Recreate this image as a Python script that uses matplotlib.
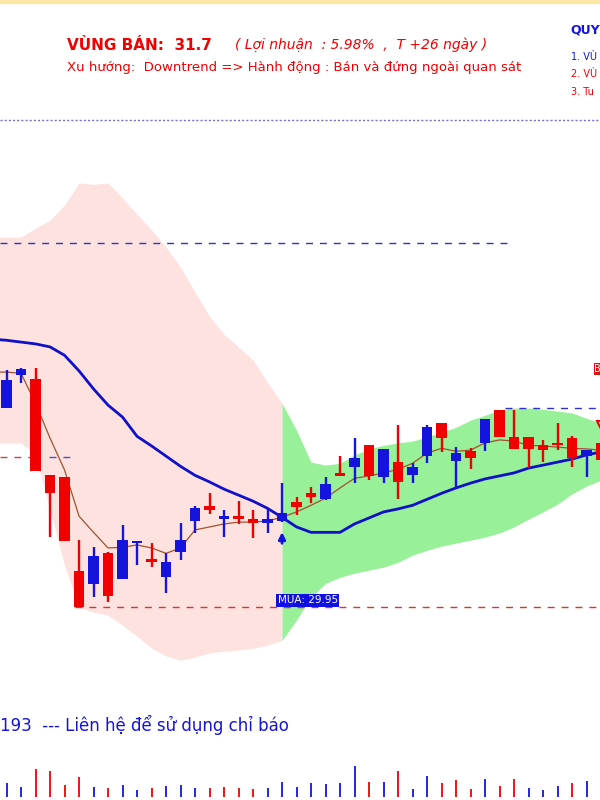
import matplotlib.pyplot as plt
import numpy as np

# ---- data (prices) ----
opens  = [31.70, 32.25, 32.18, 30.58, 30.55, 28.98, 28.77, 29.28, 28.85, 29.45,
          29.18, 28.88, 29.30, 29.82, 30.07, 29.85, 29.90, 29.85, 29.78, 29.82,
          30.13, 30.28, 30.18, 30.62, 30.72, 31.08, 30.55, 30.80, 30.58, 30.90,
          31.45, 30.82, 30.98, 31.12, 31.67, 31.22, 31.22, 31.08, 31.12, 31.20,
          30.90, 31.12]
highs  = [32.33, 32.37, 32.37, 30.58, 30.55, 29.50, 29.38, 29.30, 29.75, 29.48,
          29.45, 29.28, 29.78, 30.07, 30.28, 30.00, 30.15, 30.00, 30.03, 30.45,
          30.22, 30.38, 30.55, 30.90, 31.20, 31.08, 31.02, 31.42, 30.78, 31.42,
          31.45, 31.05, 31.03, 31.52, 31.67, 31.67, 31.22, 31.17, 31.45, 31.23,
          31.00, 31.12]
lows   = [31.70, 32.12, 30.65, 29.55, 29.48, 28.38, 28.55, 28.47, 28.85, 29.08,
          29.05, 28.62, 29.17, 29.62, 29.93, 29.55, 29.77, 29.53, 29.62, 29.80,
          29.92, 30.12, 30.17, 30.57, 30.45, 30.50, 30.45, 30.18, 30.45, 30.78,
          30.97, 30.37, 30.68, 30.98, 31.22, 31.02, 30.70, 30.80, 31.00, 30.72,
          30.55, 30.83]
closes = [32.17, 32.35, 30.65, 30.28, 29.48, 28.38, 29.23, 28.57, 29.50, 29.48,
          29.13, 29.13, 29.50, 30.03, 30.00, 29.90, 29.85, 29.78, 29.85, 29.95,
          30.05, 30.22, 30.43, 30.57, 30.87, 30.57, 31.02, 30.47, 30.72, 31.38,
          31.20, 30.95, 30.87, 31.52, 31.22, 31.02, 31.02, 31.00, 31.08, 30.87,
          31.00, 30.83]

# indicator series start one bar earlier (bar -1, just off the left edge)
ma_short = [32.30, 32.30, 32.28, 31.78, 31.20, 30.67, 29.90, 29.63, 29.37, 29.38,
            29.42, 29.37, 29.28, 29.37, 29.67, 29.72, 29.77, 29.80, 29.80, 29.82,
            29.88, 29.97, 30.08, 30.20, 30.37, 30.53, 30.57, 30.62, 30.68, 30.78,
            30.95, 31.03, 30.98, 31.00, 31.12, 31.17, 31.15, 31.08, 31.07, 31.05,
            31.03, 31.02, 31.00]
ma_long = [32.85, 32.83, 32.80, 32.77, 32.72, 32.58, 32.32, 32.02, 31.75, 31.55,
           31.23, 31.07, 30.90, 30.73, 30.58, 30.47, 30.35, 30.25, 30.15, 30.03,
           29.88, 29.72, 29.63, 29.63, 29.63, 29.77, 29.87, 29.97, 30.02, 30.08,
           30.18, 30.28, 30.37, 30.45, 30.52, 30.57, 30.62, 30.70, 30.75, 30.80,
           30.85, 30.92, 30.97]
band_up = [34.55, 34.55, 34.55, 34.70, 34.83, 35.08, 35.45, 35.43, 35.45, 35.20,
           34.93, 34.67, 34.38, 34.05, 33.63, 33.23, 32.93, 32.72, 32.50, 32.13,
           31.78, 31.33, 30.80, 30.75, 30.78, 30.92, 31.02, 31.08, 31.12, 31.15,
           31.22, 31.30, 31.38, 31.50, 31.58, 31.67, 31.70, 31.70, 31.68, 31.65,
           31.62, 31.53, 31.45]
band_low = [31.12, 31.12, 31.12, 30.92, 30.00, 29.08, 28.38, 28.30, 28.25, 28.08,
            27.90, 27.70, 27.57, 27.50, 27.55, 27.62, 27.65, 27.67, 27.70, 27.75,
            27.83, 28.17, 28.55, 28.78, 28.88, 28.95, 29.00, 29.05, 29.13, 29.25,
            29.33, 29.40, 29.45, 29.50, 29.55, 29.62, 29.72, 29.85, 29.97, 30.10,
            30.27, 30.40, 30.50]
signal_idx = 19   # bar where the band turns from sell (pink) to buy (green)

volume = [14, 10, 28, 26, 12, 20, 10, 9, 12, 7, 9, 11, 12, 9, 9, 10, 9, 8, 9, 15,
          10, 14, 13, 14, 31, 15, 15, 26, 8, 21, 14, 17, 8, 18, 11, 18, 9, 7, 11, 14, 16]
vol_up = [1, 1, 0, 0, 0, 0, 1, 0, 1, 1, 0, 1, 1, 1, 0, 0, 0, 0, 1, 1,
          1, 1, 1, 1, 1, 0, 1, 0, 1, 1, 0, 0, 0, 1, 0, 0, 1, 1, 1, 0, 1]

buy_price = 29.95
sell_price = 31.7
resist_level = 34.45
mid_level = 30.88
support_level = 28.38
header_level = 36.5

RED = '#f00000'
BLUE = '#1414dc'

fig = plt.figure(figsize=(6, 8), dpi=100)
ax = fig.add_axes([0, 0, 1, 1])
ax.set_xlim(-0.45, 40.93)
ax.set_ylim(25.17, 38.50)
ax.axis('off')

x = np.arange(len(opens))
xi = np.arange(-1, len(opens))   # x for indicator series

# bands
s = signal_idx + 1
ax.fill_between(xi[:s + 1], band_low[:s + 1], band_up[:s + 1], color='#fde2e0', lw=0, zorder=1)
ax.fill_between(xi[s:], band_low[s:], band_up[s:], color='#98f098', lw=0, zorder=1)

# level lines
ax.axhline(header_level, color='#7070d8', lw=1, ls=(0, (1.5, 1.5)), zorder=2)
ax.hlines(resist_level, -0.45, 34.6, color='#3030d0', lw=1, ls=(0, (5, 5)), zorder=2)
ax.hlines(mid_level, -0.45, 1.6, color='#d04050', lw=1, ls=(0, (5, 5)), zorder=2)
ax.hlines(mid_level, 2.9, 4.4, color='#5050d0', lw=1, ls=(0, (5, 5)), zorder=2)
ax.hlines(support_level, 4.7, 41.5, color='#e03030', lw=1, ls=(0, (5, 5)), zorder=2)
ax.hlines(sell_price, 34.4, 41.5, color='#3030d0', lw=1, ls=(0, (5, 5)), zorder=2)

# moving averages
ax.plot(xi, ma_long, color='#1010c8', lw=2, zorder=3)
ax.plot(xi, ma_short, color='#a0522d', lw=0.9, zorder=3)

# candles
for i in x:
    o, h, l, c = opens[i], highs[i], lows[i], closes[i]
    col = BLUE if c >= o else RED
    ax.vlines(i, l, h, color=col, lw=1.7, zorder=4)
    ax.bar(i, max(abs(c - o), 0.035), bottom=min(o, c), width=0.75,
           color=col, lw=0, zorder=5)

# buy arrow and labels
ax.annotate('', xy=(signal_idx, 29.68), xytext=(signal_idx, 29.40),
            arrowprops=dict(arrowstyle='-|>', color=BLUE, lw=2, mutation_scale=10),
            zorder=6)
ax.text(signal_idx - 0.3, 28.50, 'MUA: 29.95', color='white', fontsize=7.5,
        va='center', ha='left', zorder=7,
        bbox=dict(boxstyle='square,pad=0.15', fc='#1010e0', ec='none'))
ax.text(40.55, 32.35, 'B', color='white', fontsize=7, va='center',
        ha='left', zorder=7,
        bbox=dict(boxstyle='square,pad=0.1', fc='#e01010', ec='none'))
ax.plot(41, 31.42, marker='v', color=RED, ms=6, mfc='none', mew=1.5, zorder=7)

# volume panel
vax = fig.add_axes([0, 0, 1, 0.05])
vax.set_xlim(-0.45, 40.93)
vax.set_ylim(-3, 37)
vax.axis('off')
vx = np.arange(len(volume))
vcol = [BLUE if u else RED for u in vol_up]
vax.vlines(vx, 0, volume, colors=vcol, lw=1.3)

# header texts
fig.patches.append(plt.Rectangle((0, 0.996), 1, 0.004, transform=fig.transFigure,
                                 color='#fde7a6'))
fig.text(67 / 600, 1 - 45 / 800, 'VÙNG BÁN:  31.7', color=RED, fontsize=11,
         fontweight='bold', va='center', ha='left')
fig.text(235 / 600, 1 - 45 / 800, '( Lợi nhuận  : 5.98%  ,  T +26 ngày )',
         color=RED, fontsize=10, style='italic', va='center', ha='left')
fig.text(67 / 600, 1 - 68 / 800,
         'Xu hướng:  Downtrend => Hành động : Bán và đứng ngoài quan sát',
         color=RED, fontsize=9.5, va='center', ha='left')
fig.text(570 / 600, 1 - 30 / 800, 'QUY', color=BLUE, fontsize=9,
         fontweight='bold', va='center', ha='left')
fig.text(571 / 600, 1 - 57 / 800, '1. VÙ', color=BLUE, fontsize=7,
         va='center', ha='left')
fig.text(571 / 600, 1 - 74 / 800, '2. VÙ', color=RED, fontsize=7,
         va='center', ha='left')
fig.text(571 / 600, 1 - 92 / 800, '3. Tu', color=RED, fontsize=7,
         va='center', ha='left')
fig.text(0, 1 - 725 / 800, '193  --- Liên hệ để sử dụng chỉ báo', color=BLUE,
         fontsize=12, va='center', ha='left')

fig.savefig('out.png', dpi=100)
